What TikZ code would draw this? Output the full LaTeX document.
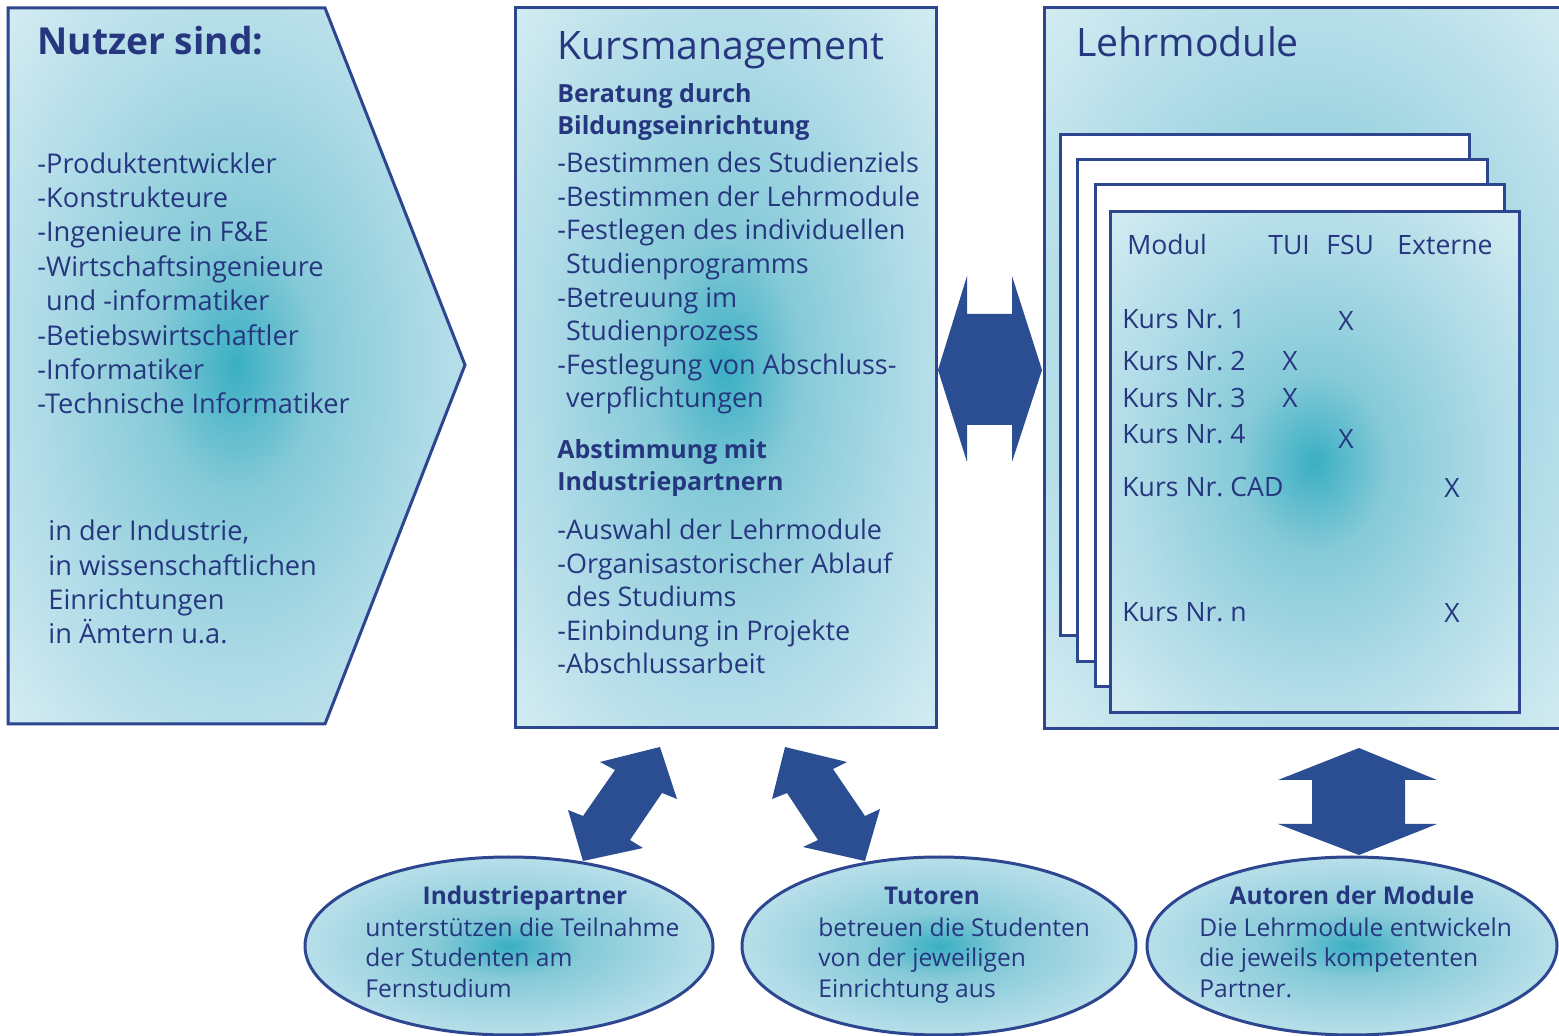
\documentclass[tikz,border=0pt]{standalone}
\usepackage{fontspec}
\setmainfont{Open Sans}
\usetikzlibrary{positioning,shapes.geometric}
\definecolor{navy}{HTML}{26367F}
\definecolor{frameblue}{HTML}{2D4690}
\definecolor{arrowblue}{HTML}{2B4E92}
\definecolor{glowA}{HTML}{3AAFC3}
\definecolor{glowB}{HTML}{86CAD8}
\definecolor{glowC}{HTML}{ACDAE6}
\definecolor{glowD}{HTML}{D0EAF1}
\definecolor{glowE}{HTML}{F6FBFD}
\pgfdeclareradialshading{glow}{\pgfpoint{0bp}{0bp}}{color(0bp)=(glowA); color(9bp)=(glowB); color(21bp)=(glowC); color(34bp)=(glowD); color(50bp)=(glowE)}

\begin{document}
\begin{tikzpicture}[
  x=0.5pt, y=-0.5pt,
  font=\fontsize{13.6}{17.2}\selectfont, text=navy,
  panel/.style={draw=frameblue, line width=1.5pt, shading=glow},
  page/.style={draw=frameblue, line width=1.5pt, fill=white},
  txt/.style={anchor=base west, align=left, inner sep=0pt},
  bigtitle/.style={anchor=base west, inner sep=0pt, font=\fontsize{19.6}{22}\selectfont},
  subhead/.style={txt, font=\fontsize{12.5}{16}\bfseries},
  listtxt/.style={txt, font=\fontsize{13.5}{16.8}\selectfont},
  tabtxt/.style={txt, font=\fontsize{13.3}{16}\selectfont},
  kreuz/.style={anchor=base, inner sep=0pt, font=\fontsize{13.3}{16}\selectfont},
  blockarr/.style={fill=arrowblue},
  bubble/.style={ellipse, draw=frameblue, line width=1.5pt, shading=glow, inner sep=0pt},
  bubbletxt/.style={txt, font=\fontsize{12.3}{15.5}\selectfont},
  bubblehead/.style={anchor=base, inner sep=0pt, font=\fontsize{12.2}{15.5}\bfseries}
]
\useasboundingbox (0,0) rectangle (1559,1036);

% Nutzer
\draw[panel] (8,8) -- (325,8) -- (465,365) -- (325,724) -- (8,724) -- cycle;
\node[bigtitle, font=\fontsize{18.6}{22}\bfseries] (nutzer) at (37,55) {Nutzer sind:};
\node[txt] (berufe) at (37,414) {-Produktentwickler\\-Konstrukteure\\-Ingenieure in F\&E\\-Wirtschaftsingenieure\\\hphantom{-}und -informatiker\\-Betiebswirtschaftler\\-Informatiker\\-Technische Informatiker};
\node[txt] (orte) at (48,644) {in der Industrie,\\in wissenschaftlichen\\Einrichtungen\\in Ämtern u.a.};

% Kursmanagement
\node[panel, minimum width=210.5pt, minimum height=360pt] (kurs) at (725.5,368) {};
\node[bigtitle] (kurstitel) at (557,60) {Kursmanagement};
\node[subhead] (beratung) at (557,135) {Beratung durch\\Bildungseinrichtung};
\node[listtxt] (aufgaben) at (557,408) {-Bestimmen des Studienziels\\-Bestimmen der Lehrmodule\\-Festlegen des individuellen\\\hphantom{-}Studienprogramms\\-Betreuung im\\\hphantom{-}Studienprozess\\-Festlegung von Abschluss-\\\hphantom{-}verpflichtungen};
\node[subhead] (abstimmung) at (557,491) {Abstimmung mit\\Industriepartnern};
\node[listtxt] (ablauf) at (557,674) {-Auswahl der Lehrmodule\\-Organisastorischer Ablauf\\\hphantom{-}des Studiums\\-Einbindung in Projekte\\-Abschlussarbeit};

% Lehrmodule
\draw[panel] (1044,8) rectangle (1575,729);
\node[bigtitle] (lehr) at (1076,57) {Lehrmodule};
\draw[page] (1060,135) rectangle (1469,636);
\draw[page] (1077,160) rectangle (1487,662);
\draw[page] (1095,185) rectangle (1504,687);
\node[panel, minimum width=204.5pt, minimum height=250.5pt] (modul) at (1314.5,462.5) {};
\node[tabtxt] (h-modul) at (1127,255) {Modul};
\node[tabtxt] (h-tui) at (1268,255) {TUI};
\node[tabtxt] (h-fsu) at (1326,255) {FSU};
\node[tabtxt] (h-ext) at (1397,255) {Externe};
\foreach \nr/\y in {1/329, 2/371, 3/408, 4/444, CAD/497, n/622}
  \node[tabtxt] (kurs-\nr) at (1122,\y) {Kurs Nr.\ \nr};
\foreach \xx/\y [count=\i] in {1346/331, 1290/371, 1290/408, 1346/449, 1452/498, 1452/623}
  \node[kreuz] (x-\i) at (\xx,\y) {X};

% Pfeile
\fill[blockarr] (938,370) -- (967,276) -- (967,314) -- (1012,314) -- (1012,276) -- (1042,370)
  -- (1012,462) -- (1012,425) -- (967,425) -- (967,462) -- cycle;
\fill[blockarr] (600,762) -- (660,747) -- (677,799) -- (662,793) -- (630,840) -- (643,848)
  -- (583,861) -- (568,810) -- (583,816) -- (615,770) -- cycle;
\fill[blockarr] (785,747) -- (847,762) -- (833,769) -- (865,816) -- (880,809) -- (865,861)
  -- (803,847) -- (818,840) -- (787,793) -- (772,799) -- cycle;
\fill[blockarr] (1359,748) -- (1437,780) -- (1405,780) -- (1405,824) -- (1437,824) -- (1359,855)
  -- (1278,824) -- (1312,824) -- (1312,780) -- (1278,780) -- cycle;

% Ellipsen
\node[bubble, minimum width=204pt, minimum height=89pt] (industrie) at (509,946) {};
\node[bubblehead] (industrie-t) at (525,905) {Industriepartner};
\node[bubbletxt] (industrie-b) at (365,998) {unterstützen die Teilnahme\\der Studenten am\\Fernstudium};

\node[bubble, minimum width=197pt, minimum height=89pt] (tutoren) at (939,946) {};
\node[bubblehead] (tutoren-t) at (932,905) {Tutoren};
\node[bubbletxt] (tutoren-b) at (818,998) {betreuen die Studenten\\von der jeweiligen\\Einrichtung aus};

\node[bubble, minimum width=205pt, minimum height=89pt] (autoren) at (1352,946) {};
\node[bubblehead] (autoren-t) at (1352,905) {Autoren der Module};
\node[bubbletxt] (autoren-b) at (1199,998) {Die Lehrmodule entwickeln\\die jeweils kompetenten\\Partner.};
\end{tikzpicture}
\end{document}
